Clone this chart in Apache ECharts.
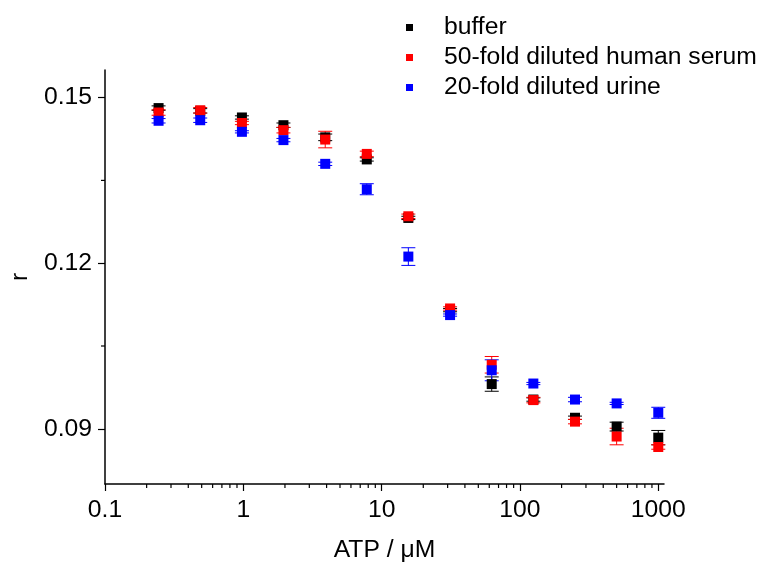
<!DOCTYPE html>
<html><head><meta charset="utf-8">
<script src="https://cdn.jsdelivr.net/npm/echarts@6/dist/echarts.min.js"></script>
<style>html,body{margin:0;padding:0;background:#fff}#c{width:769px;height:565px}</style>
</head><body><div id="c"></div>
<script>
const atp = [0.244, 0.488, 0.977, 1.95, 3.91, 7.81, 15.6, 31.25, 62.5, 125, 250, 500, 1000];

const buffer    = [0.1481, 0.1476, 0.1464, 0.1450, 0.1428, 0.1388, 0.1282, 0.1115, 0.0981, 0.0953, 0.0920, 0.0904, 0.0884];
const bufferErr = [0.0004, 0.0004, 0.0003, 0.0004, 0.0006, 0.0003, 0.0003, 0.0003, 0.0013, 0.0003, 0.0003, 0.0008, 0.0013];

const serum     = [0.1473, 0.1477, 0.1454, 0.1441, 0.1424, 0.1398, 0.1285, 0.1118, 0.1016, 0.0952, 0.0913, 0.0886, 0.0867];
const serumErr  = [0.0005, 0.0005, 0.0003, 0.0005, 0.0015, 0.0005, 0.0004, 0.0003, 0.0015, 0.0005, 0.0004, 0.0015, 0.0004];

const urine     = [0.1458, 0.1459, 0.1438, 0.1423, 0.1380, 0.1334, 0.1212, 0.1106, 0.1006, 0.0982, 0.0953, 0.0946, 0.0929];
const urineErr  = [0.0004, 0.0004, 0.0002, 0.0003, 0.0003, 0.0010, 0.0016, 0.0002, 0.0019, 0.0002, 0.0004, 0.0002, 0.0010];

const seriesNames = ['buffer', '50-fold diluted human serum', '20-fold diluted urine'];
const xTicks = [0.1, 1, 10, 100, 1000];
const xMinorTicks = [0.2,0.3,0.4,0.5,0.6,0.7,0.8,0.9, 2,3,4,5,6,7,8,9, 20,30,40,50,60,70,80,90, 200,300,400,500,600,700,800,900];
const yTicks = [0.09, 0.12, 0.15];
const yMinorTicks = [0.105, 0.135];
const xMin = 0.1, xMax = 1100, yMin = 0.08, yMax = 0.155;

const FONT = "'Liberation Sans', Arial, sans-serif";
const FS = 24.7;

function errSeries(vals, errs, color) {
  return {
    type: 'custom', silent: true, clip: false,
    data: atp.map((x, i) => [x, vals[i] - errs[i], vals[i] + errs[i]]),
    encode: { x: 0, y: [1, 2] },
    renderItem: (params, api) => {
      const x = api.value(0);
      const lo = api.coord([x, api.value(1)]);
      const hi = api.coord([x, api.value(2)]);
      const hw = 7;
      const st = { stroke: color, lineWidth: 1 };
      return { type: 'group', children: [
        { type: 'line', shape: { x1: lo[0], y1: lo[1], x2: hi[0], y2: hi[1] }, style: st },
        { type: 'line', shape: { x1: lo[0] - hw, y1: lo[1], x2: lo[0] + hw, y2: lo[1] }, style: st },
        { type: 'line', shape: { x1: hi[0] - hw, y1: hi[1], x2: hi[0] + hw, y2: hi[1] }, style: st }
      ]};
    }
  };
}
function scatter(name, vals, color) {
  return { type: 'scatter', name: name, symbol: 'rect', symbolSize: 10,
    itemStyle: { color: color, opacity: 1 }, data: atp.map((x, i) => [x, vals[i]]) };
}

const chart = echarts.init(document.getElementById('c'));
chart.setOption({
  animation: false,
  backgroundColor: '#fff',
  grid: { left: 105, right: 105, top: 70, bottom: 81, containLabel: false, outerBoundsMode: 'none' },
  legend: {
    data: seriesNames, orient: 'vertical', left: 401, top: 10, itemGap: 5,
    itemWidth: 7, itemHeight: 7, icon: 'rect',
    itemStyle: { opacity: 1 },
    textStyle: { fontFamily: FONT, fontSize: FS, color: '#000', padding: [0, 0, 0, 26] }
  },
  xAxis: {
    type: 'log', logBase: 10, min: xMin, max: xMax,
    name: 'ATP / \u03bcM', nameLocation: 'middle', nameGap: 54,
    nameTextStyle: { fontFamily: FONT, fontSize: FS, color: '#000' },
    axisLine: { lineStyle: { color: '#000', width: 1.5 } },
    axisTick: { length: 7, lineStyle: { color: '#000', width: 1.2 }, customValues: xTicks },
    axisLabel: { fontFamily: FONT, fontSize: FS, color: '#000', margin: 14, customValues: xTicks,
      formatter: v => { const l = Math.log10(v); return Math.abs(l - Math.round(l)) < 1e-6 ? String(+v.toPrecision(3)) : ''; } },
    splitLine: { show: false }
  },
  yAxis: {
    type: 'value', min: yMin, max: yMax,
    name: 'r', nameLocation: 'middle', nameGap: 65, nameRotate: 90,
    nameTextStyle: { fontFamily: FONT, fontSize: FS, color: '#000' },
    axisLine: { show: true, lineStyle: { color: '#000', width: 1.5 } },
    axisTick: { show: true, length: 7, lineStyle: { color: '#000', width: 1.2 }, customValues: yTicks },
    axisLabel: { fontFamily: FONT, fontSize: FS, color: '#000', margin: 13, customValues: yTicks,
      formatter: v => v.toFixed(2) },
    splitLine: { show: false }
  },
  series: [
    { type: 'custom', silent: true, clip: false, data: xMinorTicks,
      encode: { x: 0 },
      renderItem: (params, api) => {
        const p = api.coord([api.value(0), yMin]);
        return { type: 'line', shape: { x1: p[0], y1: p[1], x2: p[0], y2: p[1] + 4 }, style: { stroke: '#000', lineWidth: 1.2 } };
      } },
    { type: 'custom', silent: true, clip: false, data: yMinorTicks.map(v => [xMin, v]),
      encode: { x: 0, y: 1 },
      renderItem: (params, api) => {
        const p = api.coord([xMin, api.value(1)]);
        return { type: 'line', shape: { x1: p[0], y1: p[1], x2: p[0] - 4, y2: p[1] }, style: { stroke: '#000', lineWidth: 1.2 } };
      } },
    errSeries(buffer, bufferErr, '#000000'),
    scatter(seriesNames[0], buffer, '#000000'),
    errSeries(serum, serumErr, '#ff0000'),
    scatter(seriesNames[1], serum, '#ff0000'),
    errSeries(urine, urineErr, '#0000ff'),
    scatter(seriesNames[2], urine, '#0000ff')
  ]
});
</script></body></html>
